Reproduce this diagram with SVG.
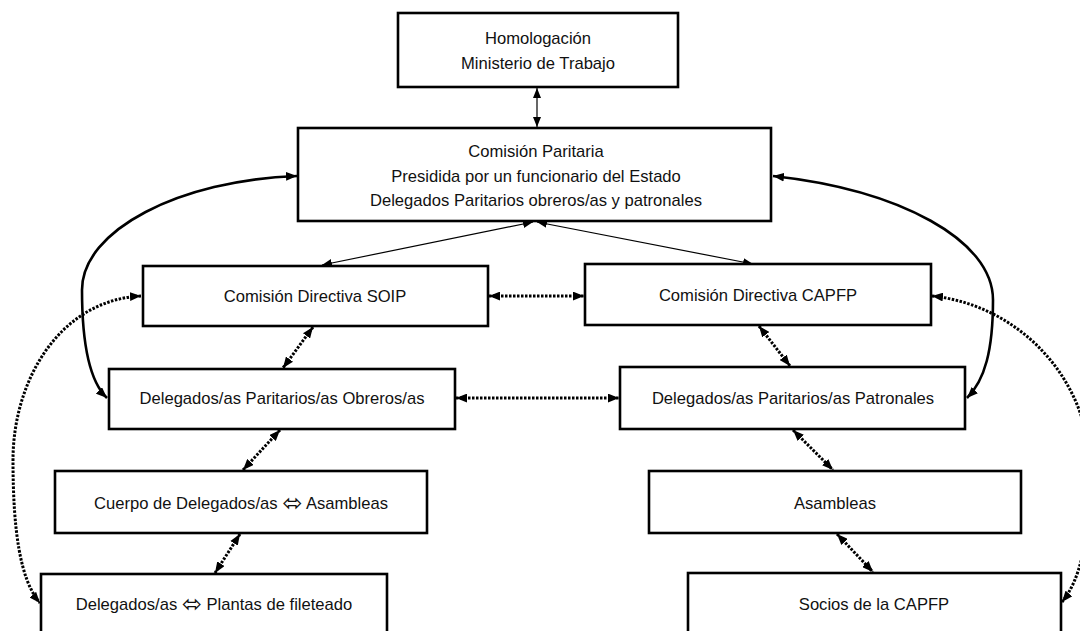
<svg xmlns="http://www.w3.org/2000/svg" width="1080" height="631" viewBox="0 0 1080 631">
<defs>
<style>
.box{fill:#fff;stroke:#000;stroke-width:2.6}
.t{font-family:"Liberation Sans",Arial,"DejaVu Sans",sans-serif;font-size:16.6px;fill:#111;text-anchor:middle;dominant-baseline:central}
.sym{font-family:"DejaVu Sans",sans-serif;font-size:24px}
.thin{fill:none;stroke:#000;stroke-width:1.2}
.thick{fill:none;stroke:#000;stroke-width:2.6}
.dot{fill:none;stroke:#000;stroke-width:3;stroke-dasharray:2.5 1.5}
</style>
<marker id="ah" viewBox="0 0 10 8" refX="10" refY="4" markerWidth="10" markerHeight="8" markerUnits="userSpaceOnUse" orient="auto-start-reverse"><path d="M0,0 L10,4 L0,8 z" fill="#000"/></marker>
<marker id="ahb" viewBox="0 0 10 8" refX="10" refY="4" markerWidth="11" markerHeight="9" markerUnits="userSpaceOnUse" orient="auto-start-reverse"><path d="M0,0 L10,4 L0,8 z" fill="#000"/></marker>
</defs>

<g id="connectors">
<line class="thin" x1="537" y1="88" x2="537" y2="127" marker-start="url(#ah)" marker-end="url(#ah)"/>
<line class="thin" x1="533" y1="222" x2="322" y2="265" marker-start="url(#ah)" marker-end="url(#ah)"/>
<line class="thin" x1="537" y1="222" x2="753" y2="264" marker-start="url(#ah)" marker-end="url(#ah)"/>
<path class="thick" d="M297,176 C180,180 82,230 82,290 C82,340 88,380 107,398" marker-start="url(#ahb)" marker-end="url(#ahb)"/>
<path class="thick" d="M773,176 C900,190 993,240 993,300 C993,350 985,380 967,398" marker-start="url(#ahb)" marker-end="url(#ahb)"/>
<line class="dot" x1="489" y1="296" x2="584" y2="296" marker-start="url(#ahb)" marker-end="url(#ahb)"/>
<line class="dot" x1="456" y1="398" x2="619" y2="398" marker-start="url(#ahb)" marker-end="url(#ahb)"/>
<line class="dot" x1="313" y1="327" x2="283" y2="368" marker-start="url(#ahb)" marker-end="url(#ahb)"/>
<line class="dot" x1="759" y1="326" x2="790" y2="366" marker-start="url(#ahb)" marker-end="url(#ahb)"/>
<line class="dot" x1="280" y1="430" x2="243" y2="470" marker-start="url(#ahb)" marker-end="url(#ahb)"/>
<line class="dot" x1="240" y1="534" x2="215" y2="573" marker-start="url(#ahb)" marker-end="url(#ahb)"/>
<line class="dot" x1="793" y1="430" x2="833" y2="470" marker-start="url(#ahb)" marker-end="url(#ahb)"/>
<line class="dot" x1="837" y1="534" x2="873" y2="572" marker-start="url(#ahb)" marker-end="url(#ahb)"/>
<path class="dot" d="M141,296 C60,300 13,380 13,460 C13,530 20,580 40,603" marker-start="url(#ahb)" marker-end="url(#ahb)"/>
<path class="dot" d="M932,296 C1020,305 1090,380 1090,470 C1090,540 1080,580 1062,602" marker-start="url(#ahb)" marker-end="url(#ahb)"/>
</g>

<g id="homologacion">
<rect class="box" x="398" y="13" width="280" height="74"/>
<text class="t" x="538" y="38">Homologación</text>
<text class="t" x="538" y="63">Ministerio de Trabajo</text>
</g>
<g id="comision-paritaria">
<rect class="box" x="298" y="128" width="473" height="93"/>
<text class="t" x="536" y="151">Comisión Paritaria</text>
<text class="t" x="536" y="176">Presidida por un funcionario del Estado</text>
<text class="t" x="536" y="200">Delegados Paritarios obreros/as y patronales</text>
</g>
<g id="cd-soip">
<rect class="box" x="143" y="266" width="345" height="60"/>
<text class="t" x="315" y="296">Comisión Directiva SOIP</text>
</g>
<g id="cd-capfp">
<rect class="box" x="585" y="264" width="346" height="61"/>
<text class="t" x="758" y="295">Comisión Directiva CAPFP</text>
</g>
<g id="obreros">
<rect class="box" x="109" y="369" width="346" height="60"/>
<text class="t" x="282" y="398">Delegados/as Paritarios/as Obreros/as</text>
</g>
<g id="patronales">
<rect class="box" x="620" y="367" width="345" height="62"/>
<text class="t" x="793" y="398">Delegados/as Paritarios/as Patronales</text>
</g>
<g id="cuerpo">
<rect class="box" x="55" y="471" width="372" height="62"/>
<text class="t" x="241" y="503">Cuerpo de Delegados/as <tspan class="sym">⬄</tspan> Asambleas</text>
</g>
<g id="asambleas">
<rect class="box" x="649" y="471" width="372" height="62"/>
<text class="t" x="835" y="503">Asambleas</text>
</g>
<g id="plantas">
<rect class="box" x="41" y="574" width="346" height="70"/>
<text class="t" x="214" y="604">Delegados/as <tspan class="sym">⬄</tspan> Plantas de fileteado</text>
</g>
<g id="socios">
<rect class="box" x="688" y="573" width="373" height="70"/>
<text class="t" x="874" y="604">Socios de la CAPFP</text>
</g>
</svg>
